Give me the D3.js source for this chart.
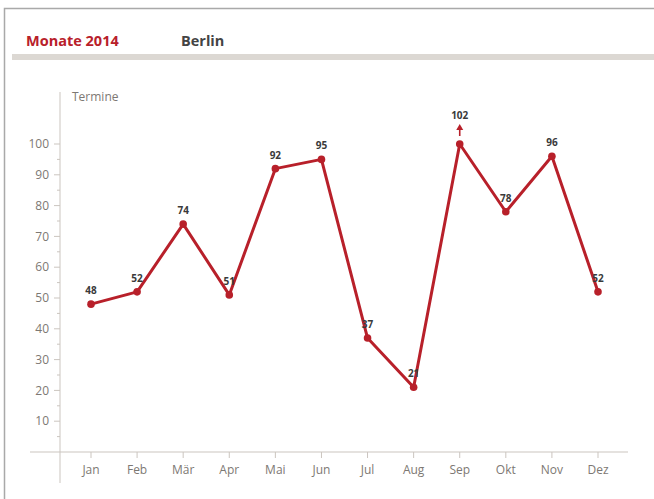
<!DOCTYPE html>
<html>
<head>
<meta charset="utf-8">
<script src="https://d3js.org/d3.v7.min.js"></script>
<style>
  body { margin: 0; background: #fff; }
  svg { display: block; font-family: "Open Sans", "DejaVu Sans", sans-serif; }
</style>
</head>
<body>
<svg width="654" height="499"></svg>
<script>
// chart data
var months = ["Jan", "Feb", "Mär", "Apr", "Mai", "Jun", "Jul", "Aug", "Sep", "Okt", "Nov", "Dez"];
var termine = [48, 52, 74, 51, 92, 95, 37, 21, 102, 78, 96, 52];
var yTicks = [10, 20, 30, 40, 50, 60, 70, 80, 90, 100];
var yMax = 100; // values above this are clipped and marked with an arrow

var svg = d3.select("svg");
var red = "#b8202a", axisCol = "#cbc5bf", tickText = "#7d7873";

// page frame
svg.append("rect").attr("x", 4.5).attr("y", 8.5).attr("width", 700).attr("height", 520)
  .attr("fill", "none").attr("stroke", "#a9a9a9").attr("stroke-width", 1.5);

// header
svg.append("text").attr("x", 26).attr("y", 46).attr("fill", red)
  .style("font-size", "14.5px").style("font-weight", "bold").text("Monate 2014");
svg.append("text").attr("x", 181).attr("y", 46).attr("fill", "#444")
  .style("font-size", "14.5px").style("font-weight", "bold").text("Berlin");
svg.append("rect").attr("x", 12).attr("y", 54).attr("width", 642).attr("height", 6).attr("fill", "#dcd8d3");

var x = d3.scalePoint().domain(months).range([91, 598]);
var y = d3.scaleLinear().domain([0, 100]).range([452, 144]);

// y axis
var yAxis = svg.append("g").attr("transform", "translate(60,0)");
yAxis.append("line").attr("y1", 92).attr("y2", 483).attr("stroke", axisCol);
yAxis.selectAll(".minor").data(d3.range(5, 105, 10)).enter().append("line")
  .attr("x1", -3).attr("x2", 0).attr("y1", function(d) { return y(d); }).attr("y2", function(d) { return y(d); })
  .attr("stroke", axisCol);
yAxis.selectAll(".major").data(yTicks).enter().append("line")
  .attr("x1", -6).attr("x2", 0).attr("y1", function(d) { return y(d); }).attr("y2", function(d) { return y(d); })
  .attr("stroke", axisCol);
yAxis.selectAll(".lbl").data(yTicks).enter().append("text")
  .attr("x", -11).attr("y", function(d) { return y(d); }).attr("dy", "0.35em")
  .attr("text-anchor", "end").attr("fill", tickText).style("font-size", "12px")
  .text(function(d) { return d; });
svg.append("text").attr("x", 72).attr("y", 101).attr("fill", tickText)
  .style("font-size", "12px").text("Termine");

// x axis
var xAxis = svg.append("g");
xAxis.append("line").attr("x1", 30).attr("x2", 628).attr("y1", 452).attr("y2", 452).attr("stroke", axisCol);
xAxis.selectAll(".t").data(months).enter().append("line")
  .attr("x1", function(d) { return x(d); }).attr("x2", function(d) { return x(d); })
  .attr("y1", 452).attr("y2", 458).attr("stroke", axisCol);
xAxis.selectAll(".l").data(months).enter().append("text")
  .attr("x", function(d) { return x(d); }).attr("y", 474)
  .attr("text-anchor", "middle").attr("fill", tickText).style("font-size", "12px")
  .text(function(d) { return d; });

var pts = months.map(function(m, i) { return { m: m, v: termine[i] }; });
var yc = function(v) { return y(Math.min(v, yMax)); };

svg.append("path").datum(pts)
  .attr("d", d3.line().x(function(d) { return x(d.m); }).y(function(d) { return yc(d.v); }))
  .attr("fill", "none").attr("stroke", red).attr("stroke-width", 3).attr("stroke-linejoin", "round");

svg.selectAll(".dot").data(pts).enter().append("circle")
  .attr("cx", function(d) { return x(d.m); }).attr("cy", function(d) { return yc(d.v); })
  .attr("r", 3.8).attr("fill", red);

svg.selectAll(".val").data(pts).enter().append("text")
  .attr("x", function(d) { return x(d.m); })
  .attr("y", function(d) { return yc(d.v) - (d.v > yMax ? 25 : 10); })
  .attr("text-anchor", "middle").attr("fill", "#3a3a3a")
  .style("font-size", "10px").style("font-weight", "bold")
  .text(function(d) { return d.v; });

// arrow for clipped value
pts.filter(function(d) { return d.v > yMax; }).forEach(function(d) {
  var cx = x(d.m), cy = y(yMax);
  svg.append("line").attr("x1", cx).attr("x2", cx).attr("y1", cy - 8).attr("y2", cy - 15)
    .attr("stroke", red).attr("stroke-width", 1.6);
  svg.append("path").attr("d", "M" + (cx - 3.5) + "," + (cy - 14) + "L" + cx + "," + (cy - 20) + "L" + (cx + 3.5) + "," + (cy - 14) + "Z")
    .attr("fill", red);
});
</script>
</body>
</html>
